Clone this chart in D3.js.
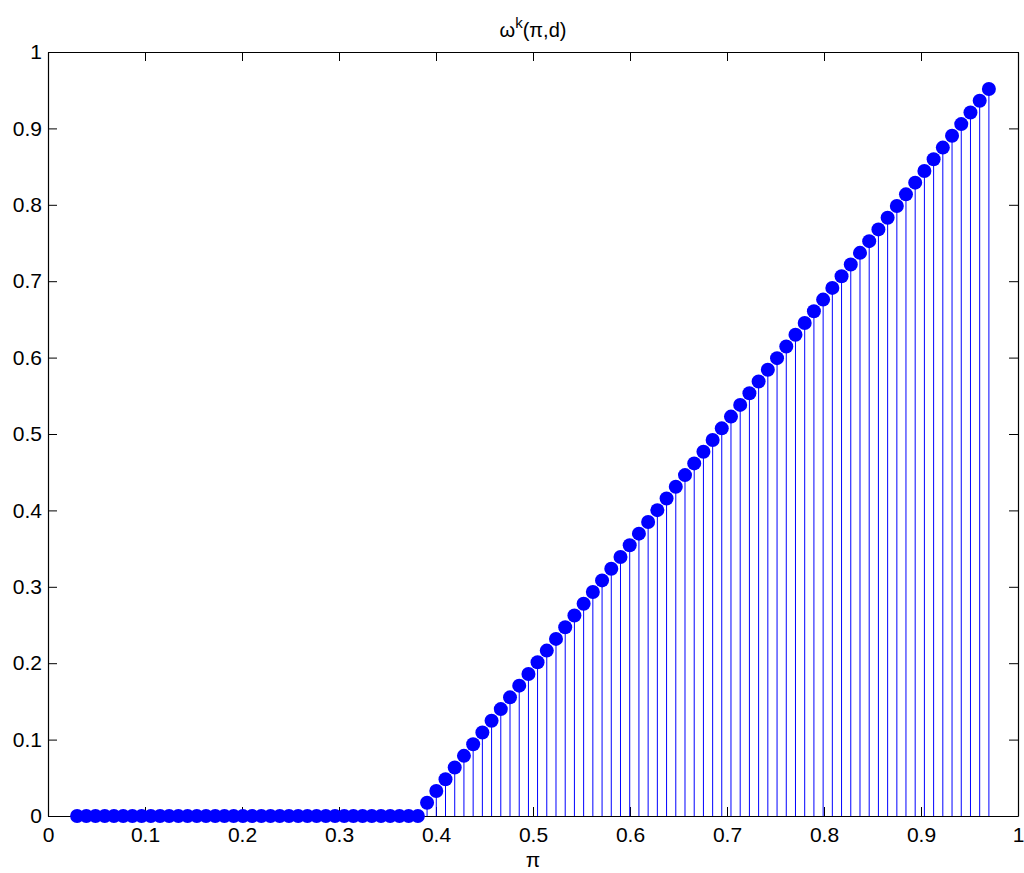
<!DOCTYPE html>
<html>
<head>
<meta charset="utf-8">
<script src="https://cdn.jsdelivr.net/npm/d3@7"></script>
<style>
  body { margin: 0; background: #fff; }
  text { font-family: "Liberation Sans", Arial, Helvetica, sans-serif; fill: #000; }
</style>
</head>
<body>
<script>
"use strict";

// pi values (100 points, 0.03 .. 0.97)
var piValues = [
    0.0300, 0.0395, 0.0490, 0.0585, 0.0680, 0.0775, 0.0870, 0.0965, 0.1060, 0.1155,
    0.1249, 0.1344, 0.1439, 0.1534, 0.1629, 0.1724, 0.1819, 0.1914, 0.2009, 0.2104,
    0.2199, 0.2294, 0.2389, 0.2484, 0.2579, 0.2674, 0.2769, 0.2864, 0.2959, 0.3054,
    0.3148, 0.3243, 0.3338, 0.3433, 0.3528, 0.3623, 0.3718, 0.3813, 0.3908, 0.4003,
    0.4098, 0.4193, 0.4288, 0.4383, 0.4478, 0.4573, 0.4668, 0.4763, 0.4858, 0.4953,
    0.5047, 0.5142, 0.5237, 0.5332, 0.5427, 0.5522, 0.5617, 0.5712, 0.5807, 0.5902,
    0.5997, 0.6092, 0.6187, 0.6282, 0.6377, 0.6472, 0.6567, 0.6662, 0.6757, 0.6852,
    0.6946, 0.7041, 0.7136, 0.7231, 0.7326, 0.7421, 0.7516, 0.7611, 0.7706, 0.7801,
    0.7896, 0.7991, 0.8086, 0.8181, 0.8276, 0.8371, 0.8466, 0.8561, 0.8656, 0.8751,
    0.8845, 0.8940, 0.9035, 0.9130, 0.9225, 0.9320, 0.9415, 0.9510, 0.9605, 0.9700
];

// omega^k(pi,d)
var omegaValues = [
    0, 0, 0, 0, 0, 0, 0, 0, 0, 0,
    0, 0, 0, 0, 0, 0, 0, 0, 0, 0,
    0, 0, 0, 0, 0, 0, 0, 0, 0, 0,
    0, 0, 0, 0, 0, 0, 0, 0, 0.0174, 0.0328,
    0.0481, 0.0634, 0.0787, 0.0940, 0.1093, 0.1246, 0.1399, 0.1553, 0.1706, 0.1859,
    0.2012, 0.2165, 0.2318, 0.2471, 0.2624, 0.2778, 0.2931, 0.3084, 0.3237, 0.3390,
    0.3543, 0.3696, 0.3849, 0.4003, 0.4156, 0.4309, 0.4462, 0.4615, 0.4768, 0.4921,
    0.5074, 0.5228, 0.5381, 0.5534, 0.5687, 0.5840, 0.5993, 0.6146, 0.6299, 0.6453,
    0.6606, 0.6759, 0.6912, 0.7065, 0.7218, 0.7371, 0.7524, 0.7678, 0.7831, 0.7984,
    0.8137, 0.8290, 0.8443, 0.8596, 0.8749, 0.8903, 0.9056, 0.9209, 0.9362, 0.9515
];

var xTicks = [0, 0.1, 0.2, 0.3, 0.4, 0.5, 0.6, 0.7, 0.8, 0.9, 1];
var yTicks = [0, 0.1, 0.2, 0.3, 0.4, 0.5, 0.6, 0.7, 0.8, 0.9, 1];

var widthEcran = 1024;
var heightEcran = 873;
var plotLeft = 48, plotRight = 1018, plotTop = 52, plotBottom = 816;
var tickLen = 9;

function baseCanvas(w, h) {
    var canvas = d3.select("body")
        .append("svg")
        .attr("width", w)
        .attr("height", h);
    canvas.append("rect")
        .attr("width", w)
        .attr("height", h)
        .attr("fill", "white");
    return canvas;
}

function tickFormat(d) {
    return d === 0 ? "0" : d === 1 ? "1" : d3.format(".1f")(d);
}

function styleAxis(g) {
    g.select(".domain").attr("stroke", "black").attr("stroke-width", 1.2);
    g.selectAll(".tick line").attr("stroke", "black").attr("stroke-width", 1);
    g.selectAll(".tick text")
        .attr("font-size", "21px")
        .attr("font-family", "'Liberation Sans', Arial, Helvetica, sans-serif")
        .attr("fill", "black");
}

function drawAxes(canvas, x, y) {
    // bottom and left with labels
    canvas.append("g")
        .attr("transform", "translate(0," + plotBottom + ")")
        .call(d3.axisBottom(x).tickValues(xTicks).tickFormat(tickFormat)
            .tickSizeInner(-tickLen).tickSizeOuter(0).tickPadding(11))
        .call(styleAxis);
    canvas.append("g")
        .attr("transform", "translate(" + plotLeft + ",0)")
        .call(d3.axisLeft(y).tickValues(yTicks).tickFormat(tickFormat)
            .tickSizeInner(-tickLen).tickSizeOuter(0).tickPadding(6))
        .call(styleAxis);
    // top and right, ticks only
    canvas.append("g")
        .attr("transform", "translate(0," + plotTop + ")")
        .call(d3.axisTop(x).tickValues(xTicks).tickFormat("")
            .tickSizeInner(-tickLen).tickSizeOuter(0))
        .call(styleAxis);
    canvas.append("g")
        .attr("transform", "translate(" + plotRight + ",0)")
        .call(d3.axisRight(y).tickValues(yTicks).tickFormat("")
            .tickSizeInner(-tickLen).tickSizeOuter(0))
        .call(styleAxis);
}

function drawStems(canvas, x, y) {
    var data = piValues.map(function (p, i) { return { pi: p, w: omegaValues[i] }; });
    canvas.append("g")
        .selectAll("line")
        .data(data)
        .enter()
        .append("line")
        .attr("x1", function (d) { return x(d.pi); })
        .attr("x2", function (d) { return x(d.pi); })
        .attr("y1", y(0))
        .attr("y2", function (d) { return y(d.w); })
        .attr("stroke", "#0000ff")
        .attr("stroke-width", 1);
    canvas.append("g")
        .selectAll("circle")
        .data(data)
        .enter()
        .append("circle")
        .attr("cx", function (d) { return x(d.pi); })
        .attr("cy", function (d) { return y(d.w); })
        .attr("r", 7)
        .attr("fill", "#0000ff");
}

function baseText(canvas) {
    var t = canvas.append("text")
        .attr("x", (plotLeft + plotRight) / 2)
        .attr("y", 37)
        .attr("text-anchor", "middle")
        .attr("font-size", "20px");
    t.append("tspan").text("ω");
    t.append("tspan").attr("dy", -9).attr("font-size", "15px").text("k");
    t.append("tspan").attr("dy", 9).text("(π,d)");

    canvas.append("text")
        .attr("x", (plotLeft + plotRight) / 2)
        .attr("y", 867)
        .attr("text-anchor", "middle")
        .attr("font-size", "21px")
        .text("π");
}

var canvas = baseCanvas(widthEcran, heightEcran);
var x = d3.scaleLinear().domain([0, 1]).range([plotLeft, plotRight]);
var y = d3.scaleLinear().domain([0, 1]).range([plotBottom, plotTop]);

drawAxes(canvas, x, y);
drawStems(canvas, x, y);
baseText(canvas);
</script>
</body>
</html>
